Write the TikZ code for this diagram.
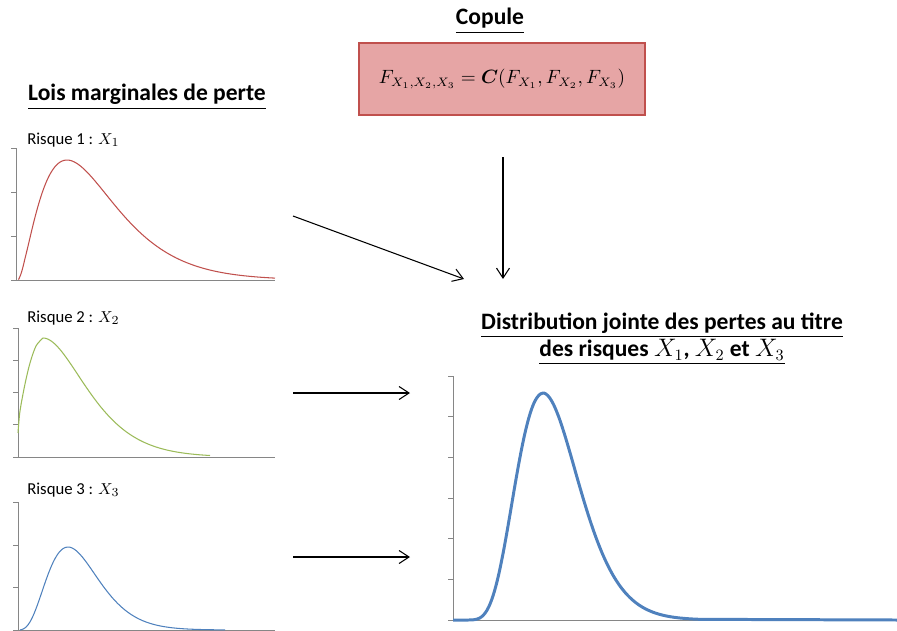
\documentclass[tikz,border=0pt]{standalone}
\usepackage{amsmath}
\usepackage{fontspec}
\setmainfont{Carlito}
\usetikzlibrary{arrows.meta}

\definecolor{copfill}{RGB}{230,165,165}
\definecolor{copline}{RGB}{192,80,77}
\definecolor{lossred}{RGB}{192,80,77}
\definecolor{lossgreen}{RGB}{155,187,89}
\definecolor{lossblue}{RGB}{79,129,189}
\definecolor{axisgray}{RGB}{134,134,134}

\begin{document}
\begin{tikzpicture}[
    x=0.02cm, y=-0.02cm,
    heading/.style={font=\fontsize{13.4}{15.3}\selectfont\bfseries, align=center},
    risklabel/.style={anchor=west, font=\fontsize{9.5}{11}\selectfont, inner sep=0pt},
    copbox/.style={rectangle, draw=copline, line width=1.2pt, fill=copfill, minimum width=5.72cm, minimum height=1.44cm, font=\fontsize{10.6}{13}\selectfont},
    axis/.style={axisgray, line width=0.5pt},
    arrow/.style={-{Straight Barb[length=2mm, width=2.6mm]}, line width=0.6pt},
    declare function={
        margone(\t)=exp(1.6*ln(\t/49)-(\t-49)/30.6);
        margtwo(\t)=exp(3*ln(\t/60)-(\t-60)/20);
        margthree(\t)=exp(4*ln(\t/52)-(\t-52)/13);
        joint(\t)=exp(7*ln(\t/83)-(\t-83)/11.86);
    }
]
\useasboundingbox (0,0) rectangle (897,630);

\node (coptitle) [heading] at (490,21) {\underline{Copule}};
\node (copula) [copbox] at (502,79) {$F_{X_1,X_2,X_3}=\boldsymbol{C}(F_{X_1},F_{X_2},F_{X_3})$};

\node (margtitle) [heading] at (147,97) {\underline{Lois marginales de perte}};
\node (risk1) [risklabel] at (27,140) {Risque 1 : $X_1$};
\node (risk2) [risklabel] at (27,318) {Risque 2 : $X_2$};
\node (risk3) [risklabel] at (27,490) {Risque 3 : $X_3$};

\node (jointtitle) [heading] at (662,339) {\underline{Distribution jointe des pertes au titre}\\\underline{des risques $X_1$, $X_2$ et $X_3$}};

% marginal 1
\draw[axis] (16,148) -- (16,280) -- (275,280);
\foreach \y in {148,192,236,280} \draw[axis] (11,\y) -- (16,\y);
\draw[lossred, line width=0.6pt] plot[domain=18.5:275, samples=120, smooth] (\x,{280-120*margone(\x-18)});

% marginal 2
\draw[axis] (18,328) -- (18,457) -- (275,457);
\foreach \y in {328,360.25,392.5,424.75,457} \draw[axis] (13,\y) -- (18,\y);
\draw[lossgreen, line width=0.6pt] plot[smooth] coordinates {(18,433) (20,411) (25,384) (30,363) (36,346) (43,338)}
    -- plot[domain=43:210, samples=90, smooth] (\x,{457-119*margtwo(\x+17)});

% marginal 3
\draw[axis] (18,502) -- (18,630) -- (275,630);
\foreach \y in {502,545,587,630} \draw[axis] (13,\y) -- (18,\y);
\draw[lossblue, line width=0.6pt] plot[domain=20:225, samples=100, smooth] (\x,{630-83*margthree(\x-16)});

% joint
\draw[axis] (453,376) -- (453,620) -- (897,620);
\foreach \y in {376,416.67,457.33,498,538.67,579.33,620} \draw[axis] (448,\y) -- (453,\y);
\draw[lossblue, line width=1.7pt] (453,620) -- plot[domain=461:700, samples=130, smooth] (\x,{620-227*joint(\x-460)}) -- (897,620);

\coordinate (a1s) at (293,216);
\coordinate (a1e) at (464,279);
\coordinate (a2s) at (293,393);
\coordinate (a2e) at (410,393);
\coordinate (a3s) at (293,557);
\coordinate (a3e) at (410,557);
\coordinate (a4s) at (503,157);
\coordinate (a4e) at (503,279);

\draw[arrow] (a1s) -- (a1e);
\draw[arrow] (a2s) -- (a2e);
\draw[arrow] (a3s) -- (a3e);
\draw[arrow] (a4s) -- (a4e);

\end{tikzpicture}
\end{document}
